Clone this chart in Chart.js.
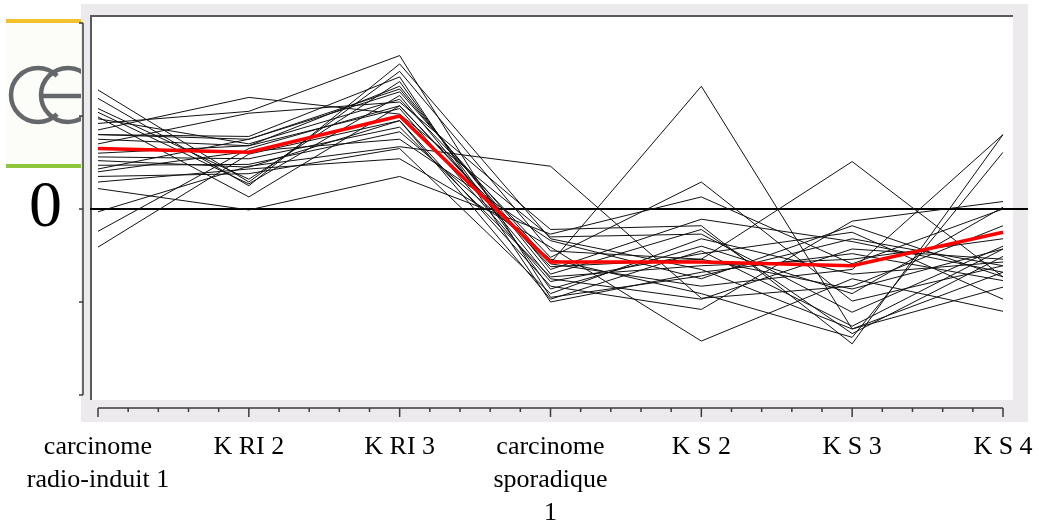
<!DOCTYPE html>
<html>
<head>
<meta charset="utf-8">
<script src="https://cdn.jsdelivr.net/npm/chart.js@4/dist/chart.umd.min.js"></script>
<style>
  body { margin: 0; background: #fff; }
  canvas { display: block; }
</style>
</head>
<body>
<canvas id="profiles" width="1045" height="524"></canvas>
<script>
const categories = [
    ['carcinome', 'radio-induit 1'],
    'K RI 2',
    'K RI 3',
    ['carcinome', 'sporadique', '1'],
    'K S 2',
    'K S 3',
    'K S 4'
];
const yTicks = [-2, -1, 0, 1, 2];

// mean profile (red)
const meanProfile = [0.65, 0.61, 1.0, -0.57, -0.57, -0.61, -0.25];

// one profile per gene (black)
const geneProfiles = [
    [1.28, 0.29, 1.48, -0.45, -0.54, -0.86, -0.43],
    [1.19, 0.25, 1.56, -0.32, -0.65, -1.29, -0.68],
    [1.08, 0.32, 1.37, -0.86, -0.40, -0.91, 0.02],
    [1.04, 0.27, 1.22, -0.75, -0.97, -0.43, -0.54],
    [0.99, 0.13, 1.11, -0.59, -0.83, -0.65, 0.80],
    [0.92, 1.05, 1.65, -0.95, -0.72, -0.32, -0.61],
    [0.85, 1.20, 1.02, -0.30, -0.27, -1.11, -0.40],
    [0.80, 0.78, 1.42, -1.00, -0.68, -0.48, -0.77],
    [0.80, 0.75, 1.26, -0.58, 1.32, -1.29, -0.84],
    [0.75, 0.68, 1.32, -0.70, -0.22, -1.34, -0.51],
    [0.70, 1.03, 1.15, -0.22, -0.18, -1.45, 0.80],
    [0.60, 0.68, 1.08, -0.78, -0.48, -0.25, -0.97],
    [0.56, 0.54, 0.88, -0.73, -0.61, -0.54, -0.32],
    [0.52, 0.45, 0.95, -0.83, -1.08, -0.13, 0.08],
    [0.47, 0.48, 0.83, -0.54, -0.91, -1.38, 0.61],
    [0.40, 0.62, 0.75, -0.34, -0.75, -0.18, -0.73],
    [0.35, 0.38, 0.65, -0.91, -0.32, -0.70, -0.57],
    [0.29, 0.43, 0.54, -0.41, -1.42, -0.75, -1.10],
    [0.22, -0.01, 0.35, -0.27, 0.13, -0.59, 0.00],
    [-0.03, 0.46, 0.67, 0.46, -0.96, -0.83, -0.18],
    [-0.24, 0.65, 1.11, -0.62, -0.54, 0.51, -0.73],
    [-0.41, 0.59, 0.95, -0.97, -0.45, -1.26, -0.43],
    [0.97, 0.70, 1.18, -0.52, 0.29, -0.99, -0.61],
    [0.43, 0.75, 1.29, -0.65, -0.11, -0.35, -0.68]
];

// gray frame, white plot, logo and the zero line
const framePlugin = {
    id: 'framePlugin',
    beforeDraw(chart) {
        const ctx = chart.ctx;
        const a = chart.chartArea;
        ctx.save();

        // logo strip
        ctx.fillStyle = '#fcfcf8';
        ctx.fillRect(6, 22, 75, 143);
        ctx.fillStyle = '#f2c12e';
        ctx.fillRect(6, 19, 75, 4);
        ctx.fillStyle = '#8dc63f';
        ctx.fillRect(6, 164, 75, 4);
        ctx.save();
        ctx.beginPath();
        ctx.rect(0, 0, 81, 524);
        ctx.clip();
        ctx.strokeStyle = '#65686b';
        ctx.lineWidth = 4.5;
        ctx.beginPath();
        ctx.arc(38, 95, 27, Math.PI * 0.25, Math.PI * 1.75);
        ctx.stroke();
        ctx.beginPath();
        ctx.arc(68, 95, 27, Math.PI * 0.25, Math.PI * 1.75);
        ctx.stroke();
        ctx.beginPath();
        ctx.moveTo(42, 96);
        ctx.lineTo(81, 96);
        ctx.stroke();
        ctx.restore();

        // frame
        ctx.fillStyle = '#edeaed';
        ctx.fillRect(a.left - 17, a.top - 19, a.right - a.left + 42, a.bottom - a.top + 46);
        ctx.fillStyle = '#ffffff';
        ctx.fillRect(a.left - 8, a.top - 8, a.right - a.left + 18, a.bottom - a.top + 13);
        ctx.strokeStyle = '#5a5a5a';
        ctx.lineWidth = 2;
        ctx.beginPath();
        ctx.moveTo(a.left - 7, a.bottom + 5);
        ctx.lineTo(a.left - 7, a.top - 7);
        ctx.lineTo(a.right + 10, a.top - 7);
        ctx.stroke();
        ctx.restore();
    },
    beforeDatasetsDraw(chart) {
        const ctx = chart.ctx;
        const a = chart.chartArea;
        const y0 = chart.scales.y.getPixelForValue(0);
        ctx.save();
        ctx.strokeStyle = '#000';
        ctx.lineWidth = 2;
        ctx.beginPath();
        ctx.moveTo(a.left - 8, y0);
        ctx.lineTo(a.right + 25, y0);
        ctx.stroke();
        ctx.restore();
    },
    afterDraw(chart) {
        const ctx = chart.ctx;
        const a = chart.chartArea;
        const xs = chart.scales.x;
        const ys = chart.scales.y;
        ctx.save();
        ctx.strokeStyle = '#3c3c3c';
        ctx.lineWidth = 1.5;

        // outer y axis
        const ax = a.left - 15;
        ctx.beginPath();
        ctx.moveTo(ax, ys.getPixelForValue(yTicks[yTicks.length - 1]));
        ctx.lineTo(ax, ys.getPixelForValue(yTicks[0]));
        yTicks.forEach(function(t) {
            const py = ys.getPixelForValue(t);
            ctx.moveTo(ax - 4, py);
            ctx.lineTo(ax, py);
        });
        ctx.stroke();

        // x axis with minor ticks
        const ay = a.bottom + 13;
        const first = xs.getPixelForValue(0);
        const last = xs.getPixelForValue(categories.length - 1);
        ctx.beginPath();
        ctx.moveTo(first, ay);
        ctx.lineTo(last, ay);
        for (let i = 0; i < categories.length; i++) {
            const px = xs.getPixelForValue(i);
            ctx.moveTo(px, ay);
            ctx.lineTo(px, ay + 9);
            if (i < categories.length - 1) {
                const next = xs.getPixelForValue(i + 1);
                for (let k = 1; k < 5; k++) {
                    const mx = px + (next - px) * k / 5;
                    ctx.moveTo(mx, ay);
                    ctx.lineTo(mx, ay + 4);
                }
            }
        }
        ctx.stroke();
        ctx.restore();
    }
};

const datasets = [{
    data: meanProfile,
    borderColor: '#ff0000',
    borderWidth: 3.5,
    pointRadius: 0,
    tension: 0
}];
geneProfiles.forEach(function(profile) {
    datasets.push({
        data: profile,
        borderColor: '#111111',
        borderWidth: 1,
        pointRadius: 0,
        tension: 0
    });
});

new Chart(document.getElementById('profiles'), {
    type: 'line',
    data: {
        labels: categories,
        datasets: datasets
    },
    options: {
        responsive: false,
        animation: false,
        layout: {
            padding: { top: 23, right: 42, left: 0, bottom: 0 }
        },
        plugins: {
            legend: { display: false },
            tooltip: { enabled: false }
        },
        scales: {
            x: {
                offset: false,
                grid: { display: false, drawTicks: false },
                border: { display: false },
                afterFit: function(scale) {
                    scale.height = 129;
                    scale.paddingLeft = 0;
                    scale.paddingRight = 0;
                },
                ticks: {
                    autoSkip: false,
                    maxRotation: 0,
                    padding: 36,
                    color: '#000',
                    font: { family: 'Liberation Serif', size: 26, lineHeight: 1.27 }
                }
            },
            y: {
                min: -2,
                max: 2,
                grid: { display: false, drawTicks: false },
                border: { display: false },
                afterFit: function(scale) {
                    scale.width = 98;
                    scale.paddingTop = 0;
                    scale.paddingBottom = 0;
                },
                ticks: {
                    stepSize: 1,
                    padding: 36,
                    color: '#000',
                    font: { family: 'Liberation Serif', size: 66 },
                    callback: function(v) { return v === 0 ? '0' : ''; }
                }
            }
        }
    },
    plugins: [framePlugin]
});
</script>
</body>
</html>
